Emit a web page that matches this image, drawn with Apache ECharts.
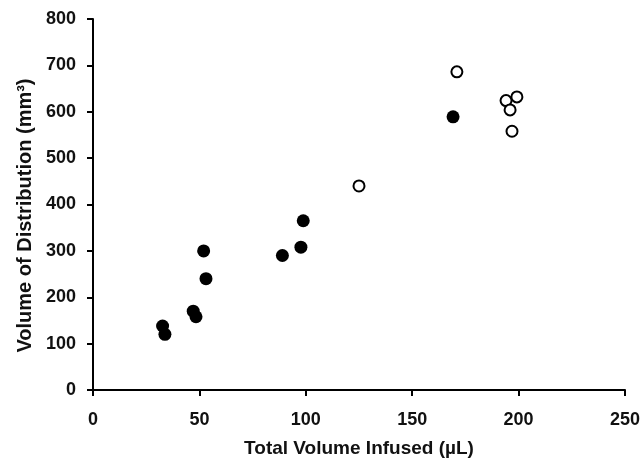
<!DOCTYPE html>
<html><head><meta charset="utf-8">
<script src="https://cdn.jsdelivr.net/npm/echarts@6/dist/echarts.min.js"></script>
<style>html,body{margin:0;padding:0;background:#fff}#c{width:643px;height:460px}</style>
</head><body><div id="c"></div>
<script>
const filledX = [32.7, 33.8, 47.1, 48.4, 52.0, 53.1, 89.0, 97.7, 98.8, 169.2];
const filledY = [138, 120, 170, 158, 300, 240, 290, 308, 365, 589];
const openX = [125.0, 171.0, 194.1, 199.2, 196.0, 196.9];
const openY = [440, 686, 624, 632, 604, 558];
const xTitle = 'Total Volume Infused (µL)';
const yTitle = 'Volume of Distribution (mm³)';

const font = 'Liberation Sans, Arial, sans-serif';
const chart = echarts.init(document.getElementById('c'));
const axisCommon = {
  axisLine: {show: true, onZero: false, lineStyle: {color: '#000', width: 2}},
  axisTick: {show: true, inside: false, length: 6, lineStyle: {color: '#000', width: 2}},
  splitLine: {show: false},
  axisLabel: {color: '#111', fontFamily: font, fontWeight: 'bold', fontSize: 18},
  nameLocation: 'middle'
};
chart.setOption({
  animation: false,
  backgroundColor: '#fff',
  grid: {left: 93, right: 18, top: 19, bottom: 70, containLabel: false, outerBoundsMode: 'none'},
  xAxis: Object.assign({}, axisCommon, {
    type: 'value', min: 0, max: 250, interval: 50,
    name: xTitle, nameGap: 49,
    nameTextStyle: {color: '#111', fontFamily: font, fontWeight: 'bold', fontSize: 19},
    axisLabel: Object.assign({}, axisCommon.axisLabel, {margin: 21})
  }),
  yAxis: Object.assign({}, axisCommon, {
    type: 'value', min: 0, max: 800, interval: 100,
    name: yTitle, nameGap: 58,
    nameTextStyle: {color: '#111', fontFamily: font, fontWeight: 'bold', fontSize: 20, padding: [0, 22, 0, 0]},
    axisLabel: Object.assign({}, axisCommon.axisLabel, {margin: 17})
  }),
  series: [
    {type: 'scatter', symbol: 'circle', symbolSize: 13,
     itemStyle: {color: '#000', opacity: 1},
     data: filledX.map((x, i) => [x, filledY[i]])},
    {type: 'scatter', symbol: 'circle', symbolSize: 11,
     itemStyle: {color: '#fff', borderColor: '#000', borderWidth: 2, opacity: 1},
     data: openX.map((x, i) => [x, openY[i]])}
  ]
});
</script></body></html>
